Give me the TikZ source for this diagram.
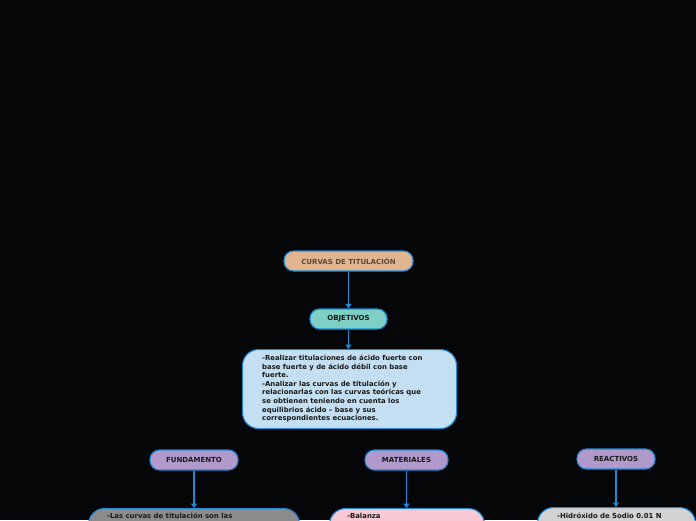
\documentclass[tikz,border=0pt]{standalone}
\usepackage{fontspec}
\setmainfont{DejaVu Sans}
\usetikzlibrary{arrows.meta,calc}
\definecolor{bg}{HTML}{050608}
\definecolor{edge}{HTML}{1E8AD6}
\definecolor{peach}{HTML}{E2B591}
\definecolor{teal}{HTML}{7ECFC4}
\definecolor{lblue}{HTML}{C4DFF2}
\definecolor{lav}{HTML}{B299CC}
\definecolor{gry}{HTML}{8C8C8C}
\definecolor{pnk}{HTML}{F8C8D4}
\definecolor{lgry}{HTML}{D2D2D2}
\definecolor{brn}{HTML}{5A4838}
\tikzset{
  pill/.style={draw=edge, line width=1.1pt, rounded corners=9.5pt, inner sep=0pt,
     font=\fontsize{7}{8}\selectfont\bfseries, text=black!90},
  bigbox/.style={draw=edge, line width=1.1pt, rounded corners=16pt, inner sep=0pt},
  body/.style={font=\fontsize{6.9}{8.55}\selectfont\bfseries, text=black!90, align=left, inner sep=0pt},
  conn/.style={draw=edge, line width=1.1pt, -{Triangle[width=6pt,length=4.5pt]}}
}
\begin{document}
\begin{tikzpicture}[x=1pt,y=-1pt]
\fill[bg] (0,0) rectangle (696,520);
\useasboundingbox (0,0) rectangle (696,520);
\clip (0,0) rectangle (696,520);

\node[pill, fill=peach, text=brn, minimum width=129pt, minimum height=20pt] (root) at (348.5,261) {CURVAS DE TITULACIÓN};
\node[pill, fill=teal, minimum width=77pt, minimum height=20pt] (obj) at (348.5,319) {OBJETIVOS};
\node[bigbox, fill=lblue, minimum width=214pt, minimum height=79pt, anchor=north west] (objbox) at (242,349) {};
\node[body, anchor=north west] (objtxt) at (262,355) {-Realizar titulaciones de ácido fuerte con\\base fuerte y de ácido débil con base\\fuerte.\\-Analizar las curvas de titulación y\\relacionarlas con las curvas teóricas que\\se obtienen teniendo en cuenta los\\equilibrios ácido – base y sus\\correspondientes ecuaciones.};

\node[pill, fill=lav, minimum width=88pt, minimum height=20pt] (fund) at (194,460) {FUNDAMENTO};
\node[pill, fill=lav, minimum width=83pt, minimum height=20pt] (mat) at (406.5,460) {MATERIALES};
\node[pill, fill=lav, minimum width=78pt, minimum height=20pt] (rea) at (616,459) {REACTIVOS};

\node[bigbox, fill=gry, minimum width=211pt, minimum height=80pt, anchor=north west] (fundbox) at (88,508) {};
\node[body, anchor=north west] (fundtxt) at (107,513) {-Las curvas de titulación son las};
\node[bigbox, fill=pnk, minimum width=155pt, minimum height=80pt, anchor=north west] (matbox) at (329,508) {};
\node[body, anchor=north west] (mattxt) at (347,513) {-Balanza};
\node[bigbox, fill=lgry, minimum width=158pt, minimum height=80pt, anchor=north west] (reabox) at (537,507) {};
\node[body, anchor=north west] (reatxt) at (557,512.5) {-Hidróxido de Sodio 0.01 N};

\draw[conn] (root.south) -- (obj.north);
\draw[conn] (obj.south) -- (obj.south |- objbox.north);
\draw[conn] (fund.south) -- (fund.south |- fundbox.north);
\draw[conn] (mat.south) -- (mat.south |- matbox.north);
\draw[conn] (rea.south) -- (rea.south |- reabox.north);
\end{tikzpicture}
\end{document}
